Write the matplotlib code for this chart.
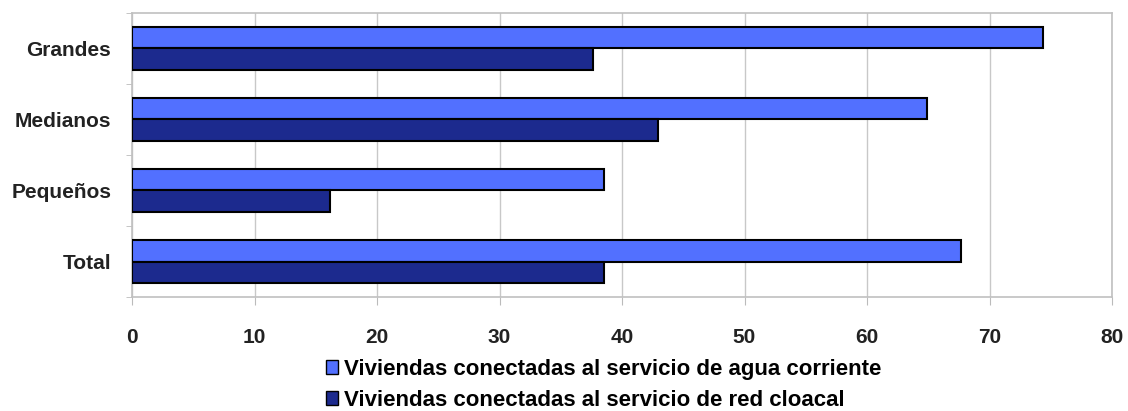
import matplotlib
matplotlib.use("Agg")
import matplotlib.pyplot as plt
import numpy as np
from matplotlib.patches import Patch

categories = ["Grandes", "Medianos", "Pequeños", "Total"]
agua = [74.4, 64.9, 38.5, 67.7]
cloaca = [37.6, 42.9, 16.2, 38.5]
xticks = [0, 10, 20, 30, 40, 50, 60, 70, 80]
series_labels = ["Viviendas conectadas al servicio de agua corriente",
                 "Viviendas conectadas al servicio de red cloacal"]

c_agua = "#5270FF"
c_cloaca = "#1C2A8E"

plt.rcParams['font.family'] = ['Liberation Sans', 'DejaVu Sans']

fig = plt.figure(figsize=(11.28, 4.11), dpi=100)
ax = fig.add_axes([132/1128, 1-297/411, (1112-132)/1128, (297-13)/411])

y = np.arange(len(categories))
h = 0.3
ax.barh(y - h/2, agua, height=h, color=c_agua, edgecolor="black", linewidth=1.5, zorder=3)
ax.barh(y + h/2, cloaca, height=h, color=c_cloaca, edgecolor="black", linewidth=1.5, zorder=3)

ax.set_xlim(0, 80)
ax.set_ylim(len(categories) - 0.5, -0.5)
ax.set_xticks(xticks)
ax.set_xticklabels([str(t) for t in xticks], fontsize=15, fontweight="bold", color="#222222")
ax.set_yticks(y)
ax.set_yticklabels(categories, fontsize=15, fontweight="bold", color="#222222")
ax.tick_params(axis='y', length=0, pad=15)
ax.tick_params(axis='x', length=6, color="#bbbbbb", pad=16)
ax.set_yticks(np.arange(-0.5, len(categories), 1), minor=True)
ax.tick_params(axis='y', which='minor', length=4, color="#bbbbbb")
ax.grid(axis='x', color="#c8c8c8", linewidth=1, zorder=0)
for s in ax.spines.values():
    s.set_color("#c0c0c0")
    s.set_linewidth(1.2)

handles = [Patch(facecolor=c_agua, edgecolor="black"), Patch(facecolor=c_cloaca, edgecolor="black")]
fig.legend(handles, series_labels, loc="upper left", bbox_to_anchor=(326/1128, 1-359/411),
           frameon=False, handlelength=0.55, handleheight=0.55, handletextpad=0.25,
           labelspacing=0.45, borderpad=0, borderaxespad=0,
           prop={'weight': 'bold', 'size': 16})

fig.savefig("out.png", dpi=100)
